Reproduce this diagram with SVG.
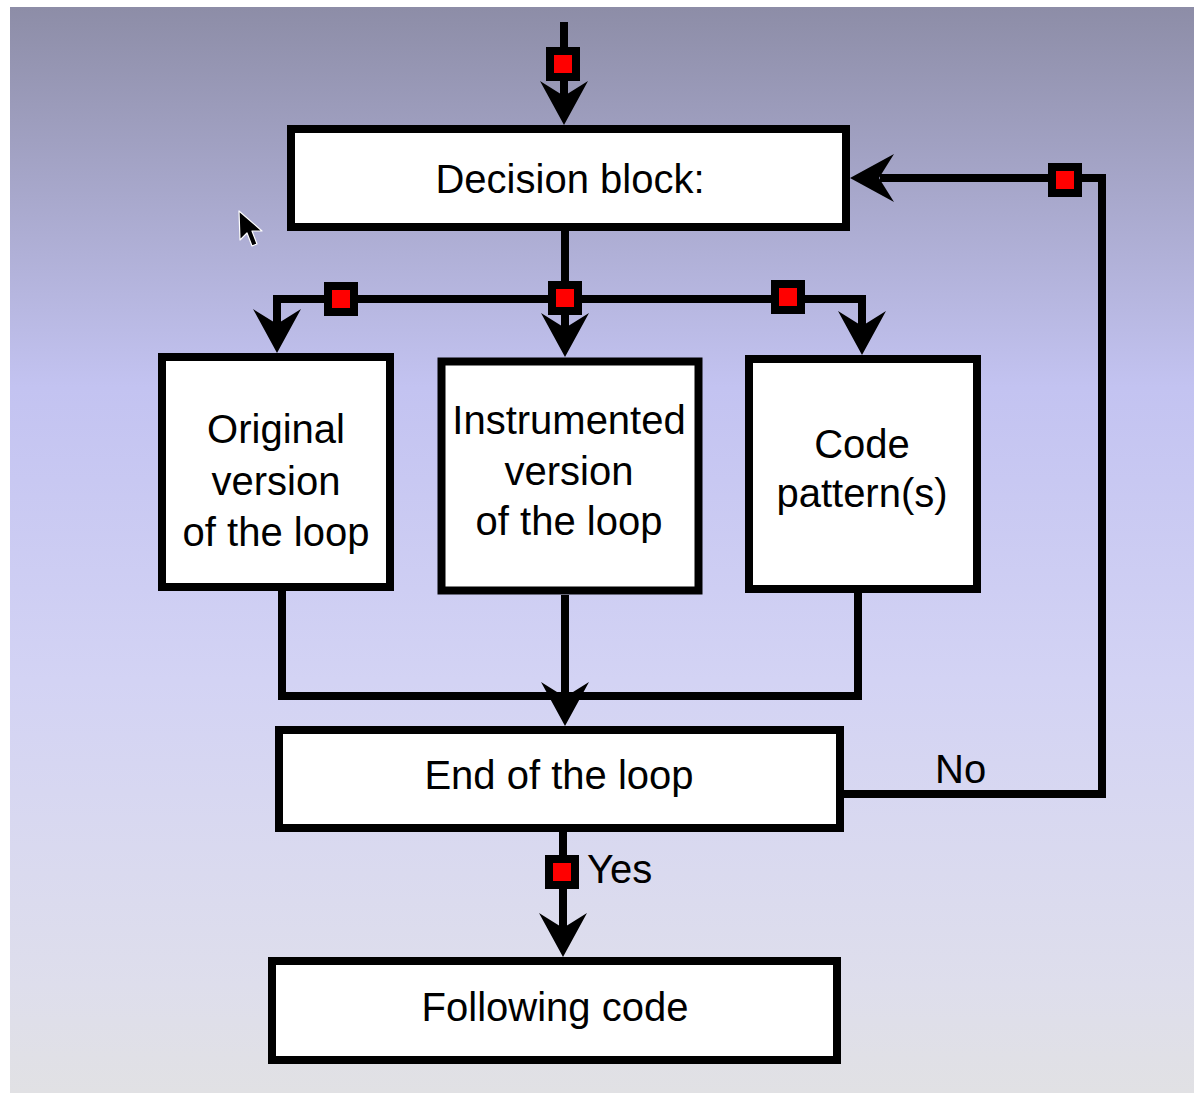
<svg xmlns="http://www.w3.org/2000/svg" xmlns:xlink="http://www.w3.org/1999/xlink" width="1194" height="1093" viewBox="0 0 1194 1093">
<style>
.box{fill:#ffffff;stroke:#000000;stroke-width:8}
.ln{fill:none;stroke:#000000;stroke-width:8;stroke-linejoin:miter;stroke-linecap:butt}
.lbl{font-family:"Liberation Sans",Arial,sans-serif;font-size:40px;fill:#000000;text-anchor:middle}
.lbl2{font-family:"Liberation Sans",Arial,sans-serif;font-size:40px;fill:#000000}
</style>
<defs>
<linearGradient id="bg" x1="0" y1="0" x2="0" y2="1">
<stop offset="0" stop-color="#8d8da7"/>
<stop offset="0.35" stop-color="#c3c3f1"/>
<stop offset="0.62" stop-color="#d3d3f4"/>
<stop offset="0.9" stop-color="#dedeec"/>
<stop offset="1" stop-color="#e1e1e4"/>
</linearGradient>
<path id="ah" d="M0,0 L-24,-44 L0,-29 L24,-44 Z" fill="#000000"/>
<g id="mk">
<rect x="-17" y="-17" width="34" height="34" fill="#000000"/>
<rect x="-9" y="-9" width="18" height="18" fill="#ff0000"/>
</g>
</defs>
<rect x="0" y="0" width="1194" height="1093" fill="#ffffff"/>
<rect x="10" y="7" width="1184" height="1086" fill="url(#bg)"/>

<g id="connectors">
<line class="ln" x1="564" y1="22" x2="564" y2="100"/>
<use xlink:href="#ah" transform="translate(564,125)"/>
<use xlink:href="#mk" transform="translate(563,64)"/>

<line class="ln" x1="565" y1="231" x2="565" y2="330"/>
<polyline class="ln" points="277,326 277,299 862,299 862,326"/>
<use xlink:href="#ah" transform="translate(277,353)"/>
<use xlink:href="#ah" transform="translate(565,357)"/>
<use xlink:href="#ah" transform="translate(862,355)"/>
<use xlink:href="#mk" transform="translate(341,299)"/>
<use xlink:href="#mk" transform="translate(565,298)"/>
<use xlink:href="#mk" transform="translate(788,297)"/>

<polyline class="ln" points="282,591 282,696 858,696 858,593"/>
<line class="ln" x1="565" y1="595" x2="565" y2="700"/>
<use xlink:href="#ah" transform="translate(565,726)"/>

<polyline class="ln" points="844,794 1102,794 1102,178 880,178"/>
<use xlink:href="#ah" transform="translate(850,178) rotate(90)"/>
<use xlink:href="#mk" transform="translate(1065,180)"/>

<line class="ln" x1="563" y1="832" x2="563" y2="930"/>
<use xlink:href="#ah" transform="translate(563,957)"/>
<use xlink:href="#mk" transform="translate(562,872)"/>
<text class="lbl2" x="935" y="783">No</text>
<text class="lbl2" x="587" y="883">Yes</text>
</g>

<g id="decision">
<rect class="box" x="291" y="129" width="555" height="98"/>
<text class="lbl" x="570" y="193">Decision block:</text>
</g>
<g id="original">
<rect class="box" x="162" y="357" width="228" height="230"/>
<text class="lbl" x="276" y="443">Original</text>
<text class="lbl" x="276" y="495">version</text>
<text class="lbl" x="276" y="546">of the loop</text>
</g>
<g id="instrumented">
<rect class="box" x="441.5" y="361.5" width="257" height="229"/>
<text class="lbl" x="569" y="434">Instrumented</text>
<text class="lbl" x="569" y="485">version</text>
<text class="lbl" x="569" y="535">of the loop</text>
</g>
<g id="pattern">
<rect class="box" x="749" y="359" width="228" height="230"/>
<text class="lbl" x="862" y="458">Code</text>
<text class="lbl" x="862" y="507">pattern(s)</text>
</g>
<g id="endloop">
<rect class="box" x="279" y="730" width="561" height="98"/>
<text class="lbl" x="559" y="789">End of the loop</text>
</g>
<g id="following">
<rect class="box" x="272" y="961" width="565" height="99"/>
<text class="lbl" x="555" y="1021">Following code</text>
</g>
<g id="cursor">
<polygon points="239,211 240,240 247,233 252,246 257,244 252,231 262,231" fill="#000000" stroke="#ffffff" stroke-width="1.2" stroke-linejoin="round"/>
</g>
</svg>
